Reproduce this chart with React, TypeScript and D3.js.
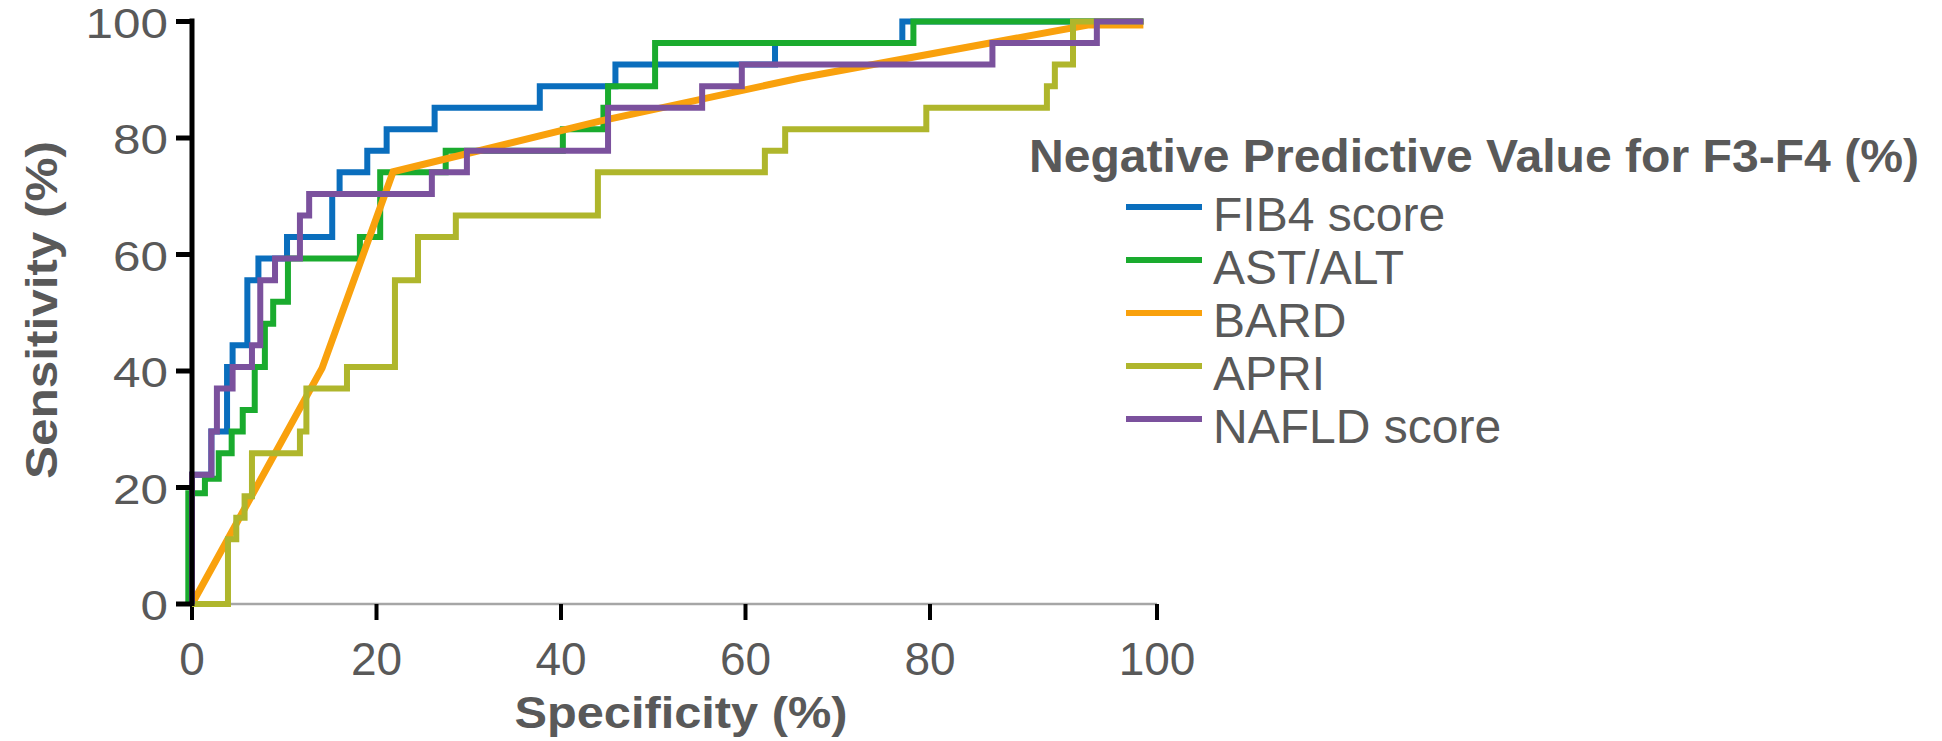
import React from "react";
import * as d3 from "d3";

// ---- data (specificity axis value, sensitivity %) ----
const fib4Spec = [0, 2.1, 3.8, 4.4, 6.0, 7.2, 10.3, 15.2, 16.0, 19.0, 21.1, 26.3, 37.7, 45.9, 63.2, 77.0, 98.8];
const fib4Sens = [0, 22.2, 29.6, 40.7, 44.4, 55.6, 59.3, 63.0, 70.4, 74.1, 77.8, 81.5, 85.2, 88.9, 92.6, 96.3, 100];

const astSpec = [-0.4, 1.4, 2.9, 4.3, 5.5, 6.8, 7.9, 8.8, 10.4, 18.2, 20.4, 27.5, 40.2, 44.6, 45.1, 50.2, 78.2, 98.8];
const astSens = [0, 19.0, 21.5, 25.9, 29.6, 33.3, 40.7, 48.1, 51.9, 59.3, 63.0, 74.1, 77.8, 81.5, 85.2, 88.9, 96.3, 100];

const bardSpec = [0, 14.1, 21.8, 44.2, 65.9, 93.9, 98.8];
const bardSens = [0, 40.5, 74.2, 82.9, 90.3, 99.4, 99.4];

const apriSpec = [0, 3.9, 4.8, 5.7, 6.5, 11.7, 12.4, 16.8, 22.0, 24.5, 28.6, 44.0, 62.1, 64.3, 79.6, 90.3, 91.0, 92.6, 98.8];
const apriSens = [0, 0, 11.1, 14.8, 18.5, 25.9, 29.6, 37.0, 40.7, 55.6, 63.0, 66.7, 74.1, 77.8, 81.5, 85.2, 88.9, 92.6, 100];

const nafldSpec = [0, 2.1, 2.7, 4.4, 6.5, 7.4, 9.0, 11.7, 12.7, 26.0, 29.8, 45.1, 55.3, 59.6, 85.5, 94.7, 98.8];
const nafldSens = [0, 22.2, 29.6, 37.0, 40.7, 44.4, 55.6, 59.3, 66.7, 70.4, 74.1, 77.8, 85.2, 88.9, 92.6, 96.3, 100];

const seriesNames = ["FIB4 score", "AST/ALT", "BARD", "APRI", "NAFLD score"];
const seriesColors = ["#0a6ebd", "#1aab2e", "#f9a10d", "#afb62c", "#7b519d"];
const xTicks = [0, 20, 40, 60, 80, 100];
const yTicks = [0, 20, 40, 60, 80, 100];
const legendTitle = "Negative Predictive Value for F3-F4 (%)";
const xTitle = "Specificity (%)";
const yTitle = "Sensitivity (%)";

const W = 1942;
const H = 741;
const TEXT = "#595959";
const FONT = "'Liberation Sans', Arial, Helvetica, sans-serif";

export default function App() {
  const x = d3.scaleLinear().domain([0, 80, 100]).range([192, 930, 1157]);
  const y = d3.scaleLinear().domain([0, 100]).range([604, 21.5]);

  const stepLine = d3
    .line<[number, number]>()
    .x((d) => x(d[0]))
    .y((d) => y(d[1]))
    .curve(d3.curveStepBefore);
  const straightLine = d3
    .line<[number, number]>()
    .x((d) => x(d[0]))
    .y((d) => y(d[1]));

  const zip = (a: number[], b: number[]) => a.map((v, i) => [v, b[i]] as [number, number]);

  const series = [
    { d: stepLine(zip(fib4Spec, fib4Sens)), w: 6 },
    { d: stepLine(zip(astSpec, astSens)), w: 6 },
    { d: straightLine(zip(bardSpec, bardSens)), w: 7 },
    { d: stepLine(zip(apriSpec, apriSens)), w: 6 },
    { d: stepLine(zip(nafldSpec, nafldSens)), w: 6 },
  ];

  const legendX = 1126;
  const legendLineY0 = 207;
  const legendStep = 53;

  return (
    <svg
      width={W}
      height={H}
      viewBox={`0 0 ${W} ${H}`}
      style={{ position: "absolute", left: 0, top: 0, background: "#fff" }}
    >
      <rect x={0} y={0} width={W} height={H} fill="#fff" />
      {/* x axis baseline */}
      <line x1={187} x2={x(100)} y1={y(0)} y2={y(0)} stroke="#a6a6a6" strokeWidth={2.5} />
      {/* x ticks */}
      {xTicks.map((t) => (
        <line key={"xt" + t} x1={x(t)} x2={x(t)} y1={y(0)} y2={y(0) + 16} stroke="#000" strokeWidth={4} />
      ))}
      {xTicks.map((t) => (
        <text
          key={"xl" + t}
          x={x(t)}
          y={675}
          textAnchor="middle"
          fontFamily={FONT}
          fontSize={46}
          fill={TEXT}
        >
          {t}
        </text>
      ))}

      {/* curves */}
      {series.map((s, i) => (
        <path
          key={"s" + i}
          d={s.d || ""}
          fill="none"
          stroke={seriesColors[i]}
          strokeWidth={s.w}
          strokeLinejoin="miter"
          strokeLinecap="butt"
        />
      ))}

      {/* y axis */}
      <line x1={x(0)} x2={x(0)} y1={y(100) - 3} y2={y(0) + 2} stroke="#000" strokeWidth={5} />
      {yTicks.map((t) => (
        <line key={"yt" + t} x1={176} x2={x(0)} y1={y(t)} y2={y(t)} stroke="#000" strokeWidth={5} />
      ))}
      {yTicks.map((t) => (
        <text
          key={"yl" + t}
          x={168}
          y={y(t) + 1}
          dy="0.36em"
          textAnchor="end"
          fontFamily={FONT}
          fontSize={43}
          fill={TEXT}
          textLength={String(t).length * 27.5}
          lengthAdjust="spacingAndGlyphs"
        >
          {t}
        </text>
      ))}

      {/* axis titles */}
      <text
        x={681}
        y={728}
        textAnchor="middle"
        fontFamily={FONT}
        fontWeight="bold"
        fontSize={44}
        fill={TEXT}
        textLength={333}
        lengthAdjust="spacingAndGlyphs"
      >
        {xTitle}
      </text>
      <text
        transform={`translate(57, 310) rotate(-90)`}
        x={0}
        y={0}
        textAnchor="middle"
        fontFamily={FONT}
        fontWeight="bold"
        fontSize={44}
        fill={TEXT}
        textLength={338}
        lengthAdjust="spacingAndGlyphs"
      >
        {yTitle}
      </text>

      {/* legend */}
      <text
        x={1029}
        y={172}
        fontFamily={FONT}
        fontWeight="bold"
        fontSize={47}
        fill={TEXT}
        textLength={890}
        lengthAdjust="spacingAndGlyphs"
      >
        {legendTitle}
      </text>
      {seriesNames.map((n, i) => (
        <g key={"lg" + i}>
          <line
            x1={legendX}
            x2={legendX + 76}
            y1={legendLineY0 + i * legendStep}
            y2={legendLineY0 + i * legendStep}
            stroke={seriesColors[i]}
            strokeWidth={6}
          />
          <text
            x={1213}
            y={legendLineY0 + i * legendStep + 24}
            fontFamily={FONT}
            fontSize={48}
            fill={TEXT}
          >
            {n}
          </text>
        </g>
      ))}
    </svg>
  );
}
